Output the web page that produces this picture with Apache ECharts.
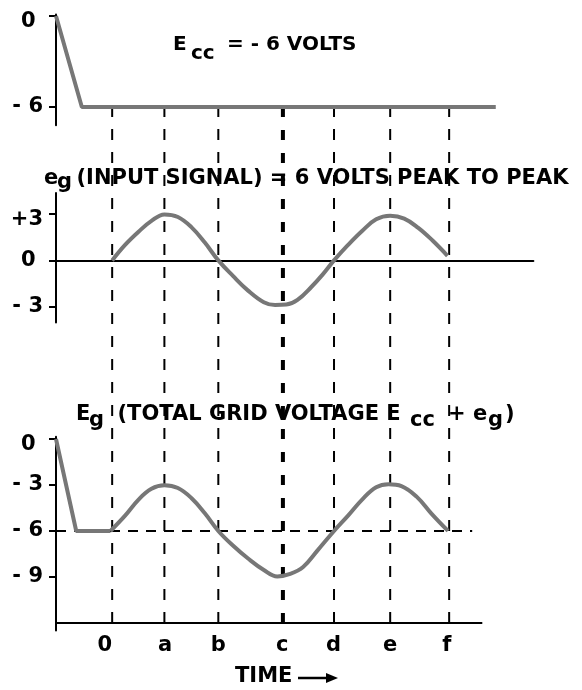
<!DOCTYPE html>
<html>
<head>
<meta charset="utf-8">
<script src="https://cdn.jsdelivr.net/npm/echarts@6/dist/echarts.min.js"></script>
<style>
  html, body { margin: 0; padding: 0; background: #fff; }
  #chart { width: 582px; height: 690px; }
</style>
</head>
<body>
<div id="chart"></div>
<script>
  // time positions of the dashed verticals (0, a .. f) and where their labels sit
  const timeLabels = ["0", "a", "b", "c", "d", "e", "f"];
  const timeTicks = [0, 0.93, 1.89, 3.04, 3.95, 4.95, 6.0];
  const timeLabelPos = [-0.13, 0.94, 1.89, 3.03, 3.94, 4.95, 5.96];

  // Ecc (top panel)
  const eccTime = [-1, -0.54, 6.83];
  const eccVolts = [0, -6, -6];
  const eccTicks = [0, -6];
  const eccTickLabels = ["0 ", "- 6"];

  // eg input signal (middle panel)
  const egTime = [0, 0.23, 0.47, 0.7, 0.93, 1.17, 1.41, 1.65, 1.89, 2.15, 2.42, 2.7, 2.9, 3.1, 3.3, 3.55, 3.75, 3.95, 4.2, 4.45, 4.7, 4.95, 5.2, 5.45, 5.7, 5.97];
  const egVolts = [0, 1.0, 1.85, 2.55, 2.97, 2.8, 2.15, 1.15, 0, -1.0, -1.95, -2.7, -2.88, -2.85, -2.55, -1.7, -0.9, 0, 1.0, 1.9, 2.65, 2.88, 2.7, 2.1, 1.3, 0.3];
  const egTicks = [3, 0, -3];
  const egTickLabels = ["+3", "0 ", "- 3"];

  // Eg total grid voltage (bottom panel)
  const rampTime = [-1, -0.64, -0.03];
  const rampVolts = [0, -6, -6];
  const totTime = [-0.03, 0.23, 0.47, 0.7, 0.93, 1.17, 1.41, 1.65, 1.89, 2.15, 2.42, 2.7, 2.94, 3.17, 3.4, 3.65, 3.95, 4.2, 4.45, 4.7, 4.92, 5.15, 5.42, 5.68, 5.98];
  const totVolts = [-6, -5.0, -3.95, -3.25, -3.02, -3.2, -3.85, -4.85, -6, -6.95, -7.8, -8.55, -8.97, -8.8, -8.35, -7.3, -6, -5.0, -3.95, -3.15, -2.95, -3.07, -3.76, -4.85, -6];
  const totTicks = [0, -3, -6, -9];
  const totTickLabels = ["0 ", "- 3", "- 6", "- 9"];
  const biasLevel = -6;
  const biasEnd = 6.41;
  const axisBottom = -12;
  const axisEnd = 6.59;

  const zip = (xs, ys) => xs.map((x, i) => [x, ys[i]]);
  const FONT = "DejaVu Sans";
  const curveStyle = { color: "#777", width: 4 };
  const labelFont = { fontFamily: FONT, fontWeight: "bold", fontSize: 21, color: "#000" };

  function yAxisFor(gridIndex, min, max, ticks, labels) {
    return {
      type: "value",
      gridIndex,
      min,
      max,
      splitLine: { show: false },
      axisLine: { show: true, onZero: false, lineStyle: { color: "#000", width: 2 } },
      axisTick: {
        show: true,
        length: 7,
        customValues: ticks,
        lineStyle: { color: "#000", width: 2 },
      },
      axisLabel: {
        customValues: ticks,
        margin: 13,
        ...labelFont,
        // the topmost label of each panel sits a little below its tick
        formatter: (v) => {
          const s = labels[ticks.indexOf(v)];
          return v === ticks[0] ? "{lo|" + s + "}" : s;
        },
        rich: { lo: { ...labelFont, padding: [11, 0, 0, 0] } },
      },
    };
  }

  function text(str, x, y, size) {
    return {
      type: "text",
      x,
      y,
      style: {
        text: str,
        fill: "#000",
        fontFamily: FONT,
        fontWeight: "bold",
        fontSize: size || 21,
        verticalAlign: "middle",
      },
    };
  }

  const chart = echarts.init(document.getElementById("chart"));

  chart.setOption({
    animation: false,
    backgroundColor: "#fff",
    grid: [
      { left: 56, top: 14.5, width: 477.4, height: 110.7 },
      { left: 56, top: 193, width: 477.4, height: 129.4 },
      { left: 56, top: 436.7, width: 426.3, height: 193.9 },
      { left: 56, top: 107, width: 477.4, height: 516 },
    ],
    xAxis: [
      { type: "value", gridIndex: 0, min: -1, max: 7.5, show: false },
      {
        type: "value",
        gridIndex: 1,
        min: -1,
        max: 7.5,
        splitLine: { show: false },
        axisTick: { show: false },
        axisLabel: { show: false },
        axisLine: { show: true, onZero: true, lineStyle: { color: "#000", width: 2 } },
      },
      {
        type: "value",
        gridIndex: 2,
        min: -1,
        max: axisEnd,
        splitLine: { show: false },
        axisTick: { show: false },
        axisLine: { show: false },
        axisLabel: {
          customValues: timeLabelPos,
          margin: 4,
          ...labelFont,
          formatter: (v) => timeLabels[timeLabelPos.indexOf(v)],
        },
      },
      { type: "value", gridIndex: 3, min: -1, max: 7.5, show: false },
    ],
    yAxis: [
      yAxisFor(0, -7.2, 0.1, eccTicks, eccTickLabels),
      yAxisFor(1, -4, 4.35, egTicks, egTickLabels),
      yAxisFor(2, -12.5, 0.15, totTicks, totTickLabels),
      { type: "value", gridIndex: 3, min: 0, max: 1, show: false },
    ],
    series: [
      ...timeTicks.map((t, i) => ({
        type: "line",
        xAxisIndex: 3,
        yAxisIndex: 3,
        data: [[t, 0], [t, 1]],
        symbol: "none",
        silent: true,
        z: 1,
        lineStyle: { color: "#000", width: i === 3 ? 4 : 2, type: i === 3 ? [10, 13] : [11, 12] },
      })),
      {
        name: "Ecc",
        type: "line",
        xAxisIndex: 0,
        yAxisIndex: 0,
        data: zip(eccTime, eccVolts),
        symbol: "none",
        z: 5,
        lineStyle: curveStyle,
      },
      {
        name: "eg",
        type: "line",
        xAxisIndex: 1,
        yAxisIndex: 1,
        data: zip(egTime, egVolts),
        smooth: 0.4,
        symbol: "none",
        z: 5,
        lineStyle: curveStyle,
      },
      {
        name: "bias",
        type: "line",
        xAxisIndex: 2,
        yAxisIndex: 2,
        data: [[-1, biasLevel], [biasEnd, biasLevel]],
        symbol: "none",
        silent: true,
        z: 2,
        lineStyle: { color: "#000", width: 2, type: [10, 8] },
      },
      {
        name: "time axis",
        type: "line",
        xAxisIndex: 2,
        yAxisIndex: 2,
        data: [[-1, axisBottom], [axisEnd, axisBottom]],
        symbol: "none",
        silent: true,
        z: 3,
        lineStyle: { color: "#000", width: 2 },
      },
      {
        name: "Eg ramp",
        type: "line",
        xAxisIndex: 2,
        yAxisIndex: 2,
        data: zip(rampTime, rampVolts),
        symbol: "none",
        z: 5,
        lineStyle: curveStyle,
      },
      {
        name: "Eg",
        type: "line",
        xAxisIndex: 2,
        yAxisIndex: 2,
        data: zip(totTime, totVolts),
        smooth: 0.4,
        symbol: "none",
        z: 5,
        lineStyle: curveStyle,
      },
    ],
    graphic: [
      text("E", 173, 44.5, 20),
      text("cc", 191, 54, 20),
      text("= - 6 VOLTS", 227, 44.5, 20),

      text("e", 44, 178.5),
      text("g", 57, 182.5),
      text("(INPUT SIGNAL) = 6 VOLTS PEAK TO PEAK", 76.5, 178.5),

      text("E", 76, 414.5),
      text("g", 89, 420.5),
      text("(TOTAL GRID VOLTAGE E", 117.5, 414.5),
      text("cc", 410, 420.5),
      text("+ e", 448, 414.5),
      text("g", 488, 420.5),
      text(")", 505, 414.5),

      text("TIME", 235, 676.5),
      { type: "line", shape: { x1: 298, y1: 678, x2: 328, y2: 678 }, style: { stroke: "#000", lineWidth: 2.5 } },
      { type: "polygon", shape: { points: [[326, 673], [338, 678], [326, 683]] }, style: { fill: "#000" } },
    ],
  });
</script>
</body>
</html>
